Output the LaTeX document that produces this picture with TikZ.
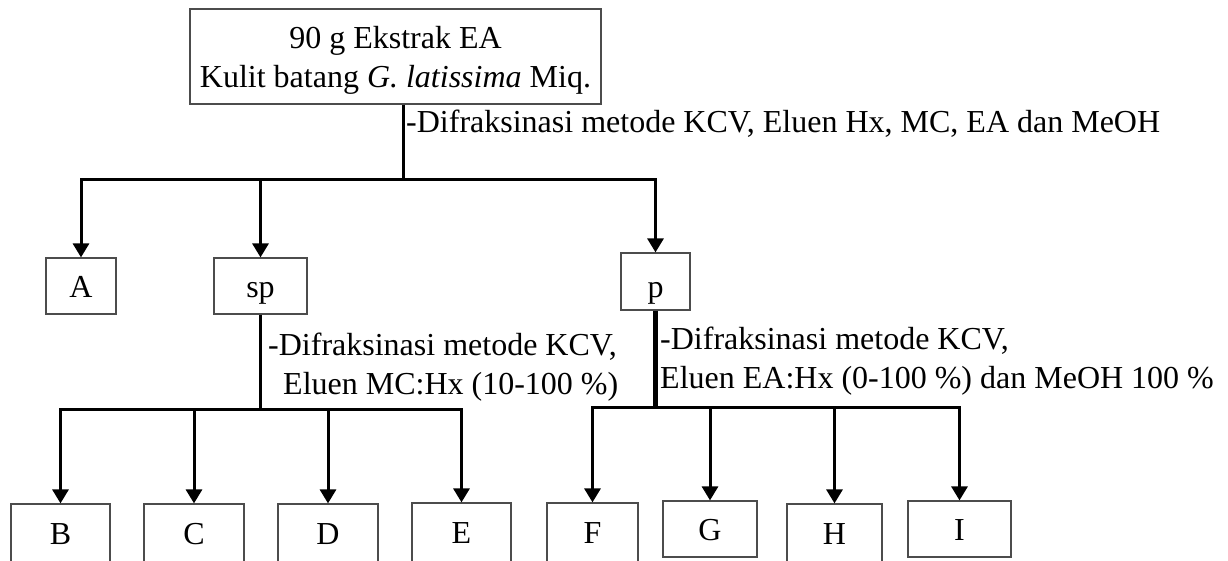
\documentclass[tikz,border=0pt]{standalone}
\usepackage{fontspec}
\setmainfont{Liberation Serif}
\usetikzlibrary{arrows.meta}
\begin{document}
\begin{tikzpicture}[x=1pt,y=-1pt,
  every node/.style={font=\fontsize{32}{39}\selectfont, inner sep=0pt},
  boxline/.style={draw=black!70, line width=1.2pt},
  fraction/.style={boxline, minimum height=56pt, text height=22pt, text depth=0pt},
  link/.style={line width=3pt, line join=miter},
  feed/.style={link, -{Triangle[length=14pt,width=16pt]}},
  procnote/.style={align=left},
]
\useasboundingbox (0,0) rectangle (1228,560);

% starting extract
\node[boxline, minimum width=411pt, minimum height=95pt, align=center] (top) at (395.5,56.5)
  {\rule{0pt}{29pt}90 g Ekstrak EA\\Kulit batang \textit{G. latissima} Miq.};

% first fractionation
\node[fraction, minimum width=70pt] (A)  at (81,286)    {A};
\node[fraction, minimum width=93pt] (sp) at (260.5,286) {sp};
\node[fraction, minimum width=69pt, minimum height=57pt, text height=31pt] (p) at (655.5,281.5) {p};

% sub-fractions of sp
\node[fraction, minimum width=99pt,  minimum height=58pt] (B) at (60.5,533) {B};
\node[fraction, minimum width=100pt, minimum height=58pt] (C) at (194,533)  {C};
\node[fraction, minimum width=100pt, minimum height=58pt] (D) at (328,533)  {D};
\node[fraction, minimum width=99pt,  minimum height=59pt] (E) at (461.5,532.5) {E};

% sub-fractions of p
\node[fraction, minimum width=91pt,  minimum height=59pt] (F) at (592.5,532.5) {F};
\node[fraction, minimum width=94pt]  (G) at (710,529)   {G};
\node[fraction, minimum width=95pt,  minimum height=58pt] (H) at (834.5,533) {H};
\node[fraction, minimum width=103pt] (I) at (959.5,529) {I};

% procedure notes
\node[anchor=base west] (n1) at (406,132)
  {-Difraksinasi metode KCV, Eluen Hx, MC, EA dan MeOH};
\node[procnote, anchor=north west] (n2) at (268,333)
  {-Difraksinasi metode KCV,\\\hspace*{15pt}Eluen MC:Hx (10-100 \%)};
\node[procnote, anchor=north west] (n3) at (660,327)
  {-Difraksinasi metode KCV,\\Eluen EA:Hx (0-100 \%) dan MeOH 100 \%};

% connectors
\coordinate (j1) at (403,179);
\draw[link] (top.south -| j1) -- (j1);
\draw[feed] (j1) -| (A.north);
\draw[feed] (j1) -| (sp.north);
\draw[feed] (j1) -| (p.north);

\coordinate (j2) at (260.5,409);
\draw[link] (sp.south) -- (j2);
\foreach \t in {B,C,D,E} \draw[feed] (j2) -| (\t.north);

\coordinate (j3) at (655.5,407);
\draw[link, line width=4.5pt] (p.south) -- (j3);
\foreach \t in {F,G,H,I} \draw[feed] (j3) -| (\t.north);
\end{tikzpicture}
\end{document}
